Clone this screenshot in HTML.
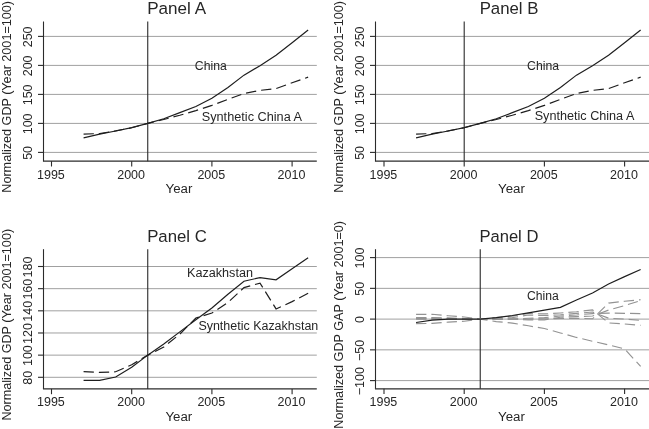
<!DOCTYPE html>
<html><head><meta charset="utf-8"><style>
html,body{margin:0;padding:0;background:#fff;}
svg{display:block;will-change:transform;}
text{font-family:"Liberation Sans", sans-serif;font-size:12.5px;fill:#262626;}
</style></head><body>
<svg width="649" height="429" viewBox="0 0 649 429">
<rect width="649" height="429" fill="#fff"/>
<line x1="43.5" y1="152.40" x2="316.8" y2="152.40" stroke="#a0a0a0" stroke-width="1"/>
<line x1="43.5" y1="123.40" x2="316.8" y2="123.40" stroke="#a0a0a0" stroke-width="1"/>
<line x1="43.5" y1="94.40" x2="316.8" y2="94.40" stroke="#a0a0a0" stroke-width="1"/>
<line x1="43.5" y1="65.40" x2="316.8" y2="65.40" stroke="#a0a0a0" stroke-width="1"/>
<line x1="43.5" y1="36.40" x2="316.8" y2="36.40" stroke="#a0a0a0" stroke-width="1"/>
<line x1="147.74" y1="21.5" x2="147.74" y2="161.2" stroke="#2b2b2b" stroke-width="1.1"/>
<polyline points="83.58,134.13 99.62,133.55 115.66,130.94 131.70,127.75 147.74,123.40 163.78,119.51 179.82,115.28 195.86,110.64 211.90,105.42 227.94,99.33 243.98,93.53 260.02,90.34 276.06,88.60 292.10,82.80 308.14,77.12" fill="none" stroke="#1e1e1e" stroke-width="1.2" stroke-dasharray="10.3 5.0"/>
<polyline points="83.58,137.84 99.62,134.13 115.66,131.00 131.70,127.69 147.74,123.40 163.78,118.76 179.82,112.67 195.86,106.46 211.90,98.34 227.94,87.44 243.98,75.14 260.02,65.69 276.06,55.25 292.10,42.78 308.14,30.02" fill="none" stroke="#1e1e1e" stroke-width="1.2"/>
<line x1="43.5" y1="21.5" x2="43.5" y2="161.2" stroke="#2b2b2b" stroke-width="1.1"/>
<line x1="42.95" y1="161.2" x2="316.8" y2="161.2" stroke="#2b2b2b" stroke-width="1.2"/>
<line x1="38.0" y1="152.40" x2="43.5" y2="152.40" stroke="#2b2b2b" stroke-width="1.1"/>
<text x="0" y="0" transform="translate(31.90,152.90) rotate(-90)" text-anchor="middle">50</text>
<line x1="38.0" y1="123.40" x2="43.5" y2="123.40" stroke="#2b2b2b" stroke-width="1.1"/>
<text x="0" y="0" transform="translate(31.90,123.90) rotate(-90)" text-anchor="middle">100</text>
<line x1="38.0" y1="94.40" x2="43.5" y2="94.40" stroke="#2b2b2b" stroke-width="1.1"/>
<text x="0" y="0" transform="translate(31.90,94.90) rotate(-90)" text-anchor="middle">150</text>
<line x1="38.0" y1="65.40" x2="43.5" y2="65.40" stroke="#2b2b2b" stroke-width="1.1"/>
<text x="0" y="0" transform="translate(31.90,65.90) rotate(-90)" text-anchor="middle">200</text>
<line x1="38.0" y1="36.40" x2="43.5" y2="36.40" stroke="#2b2b2b" stroke-width="1.1"/>
<text x="0" y="0" transform="translate(31.90,36.90) rotate(-90)" text-anchor="middle">250</text>
<line x1="51.50" y1="161.2" x2="51.50" y2="166.5" stroke="#2b2b2b" stroke-width="1.1"/>
<text x="50.90" y="178.70" text-anchor="middle">1995</text>
<line x1="131.70" y1="161.2" x2="131.70" y2="166.5" stroke="#2b2b2b" stroke-width="1.1"/>
<text x="131.10" y="178.70" text-anchor="middle">2000</text>
<line x1="211.90" y1="161.2" x2="211.90" y2="166.5" stroke="#2b2b2b" stroke-width="1.1"/>
<text x="211.30" y="178.70" text-anchor="middle">2005</text>
<line x1="292.10" y1="161.2" x2="292.10" y2="166.5" stroke="#2b2b2b" stroke-width="1.1"/>
<text x="291.50" y="178.70" text-anchor="middle">2010</text>
<text x="178.95" y="192.80" text-anchor="middle" textLength="26.8" lengthAdjust="spacingAndGlyphs">Year</text>
<text x="0" y="0" transform="translate(10.70,96.85) rotate(-90)" text-anchor="middle" textLength="191.7" lengthAdjust="spacingAndGlyphs">Normalized GDP (Year 2001=100)</text>
<text x="176.65" y="13.75" text-anchor="middle" style="font-size:16.3px" textLength="58.8" lengthAdjust="spacingAndGlyphs">Panel A</text>
<text x="194.80" y="69.85" textLength="31.96" lengthAdjust="spacingAndGlyphs">China</text>
<text x="201.70" y="120.70" textLength="100.4" lengthAdjust="spacingAndGlyphs">Synthetic China A</text>
<line x1="375.5" y1="152.40" x2="649" y2="152.40" stroke="#a0a0a0" stroke-width="1"/>
<line x1="375.5" y1="123.40" x2="649" y2="123.40" stroke="#a0a0a0" stroke-width="1"/>
<line x1="375.5" y1="94.40" x2="649" y2="94.40" stroke="#a0a0a0" stroke-width="1"/>
<line x1="375.5" y1="65.40" x2="649" y2="65.40" stroke="#a0a0a0" stroke-width="1"/>
<line x1="375.5" y1="36.40" x2="649" y2="36.40" stroke="#a0a0a0" stroke-width="1"/>
<line x1="464.20" y1="21.5" x2="464.20" y2="161.2" stroke="#2b2b2b" stroke-width="1.1"/>
<polyline points="416.08,134.13 432.12,133.55 448.16,130.94 464.20,127.75 480.24,123.40 496.28,119.51 512.32,115.28 528.36,110.64 544.40,105.42 560.44,99.33 576.48,93.53 592.52,90.34 608.56,88.60 624.60,82.80 640.64,77.12" fill="none" stroke="#1e1e1e" stroke-width="1.2" stroke-dasharray="10.3 5.0"/>
<polyline points="416.08,137.84 432.12,134.13 448.16,131.00 464.20,127.69 480.24,123.40 496.28,118.76 512.32,112.67 528.36,106.46 544.40,98.34 560.44,87.44 576.48,75.14 592.52,65.69 608.56,55.25 624.60,42.78 640.64,30.02" fill="none" stroke="#1e1e1e" stroke-width="1.2"/>
<line x1="375.5" y1="21.5" x2="375.5" y2="161.2" stroke="#2b2b2b" stroke-width="1.1"/>
<line x1="374.95" y1="161.2" x2="649" y2="161.2" stroke="#2b2b2b" stroke-width="1.2"/>
<line x1="370.0" y1="152.40" x2="375.5" y2="152.40" stroke="#2b2b2b" stroke-width="1.1"/>
<text x="0" y="0" transform="translate(363.90,152.90) rotate(-90)" text-anchor="middle">50</text>
<line x1="370.0" y1="123.40" x2="375.5" y2="123.40" stroke="#2b2b2b" stroke-width="1.1"/>
<text x="0" y="0" transform="translate(363.90,123.90) rotate(-90)" text-anchor="middle">100</text>
<line x1="370.0" y1="94.40" x2="375.5" y2="94.40" stroke="#2b2b2b" stroke-width="1.1"/>
<text x="0" y="0" transform="translate(363.90,94.90) rotate(-90)" text-anchor="middle">150</text>
<line x1="370.0" y1="65.40" x2="375.5" y2="65.40" stroke="#2b2b2b" stroke-width="1.1"/>
<text x="0" y="0" transform="translate(363.90,65.90) rotate(-90)" text-anchor="middle">200</text>
<line x1="370.0" y1="36.40" x2="375.5" y2="36.40" stroke="#2b2b2b" stroke-width="1.1"/>
<text x="0" y="0" transform="translate(363.90,36.90) rotate(-90)" text-anchor="middle">250</text>
<line x1="384.00" y1="161.2" x2="384.00" y2="166.5" stroke="#2b2b2b" stroke-width="1.1"/>
<text x="383.40" y="178.70" text-anchor="middle">1995</text>
<line x1="464.20" y1="161.2" x2="464.20" y2="166.5" stroke="#2b2b2b" stroke-width="1.1"/>
<text x="463.60" y="178.70" text-anchor="middle">2000</text>
<line x1="544.40" y1="161.2" x2="544.40" y2="166.5" stroke="#2b2b2b" stroke-width="1.1"/>
<text x="543.80" y="178.70" text-anchor="middle">2005</text>
<line x1="624.60" y1="161.2" x2="624.60" y2="166.5" stroke="#2b2b2b" stroke-width="1.1"/>
<text x="624.00" y="178.70" text-anchor="middle">2010</text>
<text x="511.50" y="192.80" text-anchor="middle" textLength="26.8" lengthAdjust="spacingAndGlyphs">Year</text>
<text x="0" y="0" transform="translate(342.80,96.85) rotate(-90)" text-anchor="middle" textLength="191.7" lengthAdjust="spacingAndGlyphs">Normalized GDP (Year 2001=100)</text>
<text x="509.05" y="13.60" text-anchor="middle" style="font-size:16.3px" textLength="58.8" lengthAdjust="spacingAndGlyphs">Panel B</text>
<text x="527.10" y="69.85" textLength="31.96" lengthAdjust="spacingAndGlyphs">China</text>
<text x="534.70" y="119.90" textLength="99.7" lengthAdjust="spacingAndGlyphs">Synthetic China A</text>
<line x1="43.5" y1="377.30" x2="316.8" y2="377.30" stroke="#a0a0a0" stroke-width="1"/>
<line x1="43.5" y1="355.14" x2="316.8" y2="355.14" stroke="#a0a0a0" stroke-width="1"/>
<line x1="43.5" y1="332.98" x2="316.8" y2="332.98" stroke="#a0a0a0" stroke-width="1"/>
<line x1="43.5" y1="310.82" x2="316.8" y2="310.82" stroke="#a0a0a0" stroke-width="1"/>
<line x1="43.5" y1="288.66" x2="316.8" y2="288.66" stroke="#a0a0a0" stroke-width="1"/>
<line x1="43.5" y1="266.50" x2="316.8" y2="266.50" stroke="#a0a0a0" stroke-width="1"/>
<line x1="147.74" y1="249.2" x2="147.74" y2="388.9" stroke="#2b2b2b" stroke-width="1.1"/>
<polyline points="83.58,371.65 99.62,372.42 115.66,371.76 131.70,364.78 147.74,355.14 163.78,347.05 179.82,334.09 195.86,318.02 211.90,313.04 227.94,302.51 243.98,287.66 260.02,283.12 276.06,308.94 292.10,301.62 308.14,293.31" fill="none" stroke="#1e1e1e" stroke-width="1.2" stroke-dasharray="10.3 5.0"/>
<polyline points="83.58,380.29 99.62,380.40 115.66,376.97 131.70,367.33 147.74,355.14 163.78,344.06 179.82,331.87 195.86,319.68 211.90,308.05 227.94,294.20 243.98,281.24 260.02,277.58 276.06,279.80 292.10,268.72 308.14,257.64" fill="none" stroke="#1e1e1e" stroke-width="1.2"/>
<line x1="43.5" y1="249.2" x2="43.5" y2="388.9" stroke="#2b2b2b" stroke-width="1.1"/>
<line x1="42.95" y1="388.9" x2="316.8" y2="388.9" stroke="#2b2b2b" stroke-width="1.2"/>
<line x1="38.0" y1="377.30" x2="43.5" y2="377.30" stroke="#2b2b2b" stroke-width="1.1"/>
<text x="0" y="0" transform="translate(31.90,377.80) rotate(-90)" text-anchor="middle">80</text>
<line x1="38.0" y1="355.14" x2="43.5" y2="355.14" stroke="#2b2b2b" stroke-width="1.1"/>
<text x="0" y="0" transform="translate(31.90,355.64) rotate(-90)" text-anchor="middle">100</text>
<line x1="38.0" y1="332.98" x2="43.5" y2="332.98" stroke="#2b2b2b" stroke-width="1.1"/>
<text x="0" y="0" transform="translate(31.90,333.48) rotate(-90)" text-anchor="middle">120</text>
<line x1="38.0" y1="310.82" x2="43.5" y2="310.82" stroke="#2b2b2b" stroke-width="1.1"/>
<text x="0" y="0" transform="translate(31.90,311.32) rotate(-90)" text-anchor="middle">140</text>
<line x1="38.0" y1="288.66" x2="43.5" y2="288.66" stroke="#2b2b2b" stroke-width="1.1"/>
<text x="0" y="0" transform="translate(31.90,289.16) rotate(-90)" text-anchor="middle">160</text>
<line x1="38.0" y1="266.50" x2="43.5" y2="266.50" stroke="#2b2b2b" stroke-width="1.1"/>
<text x="0" y="0" transform="translate(31.90,267.00) rotate(-90)" text-anchor="middle">180</text>
<line x1="51.50" y1="388.9" x2="51.50" y2="394.2" stroke="#2b2b2b" stroke-width="1.1"/>
<text x="50.90" y="406.40" text-anchor="middle">1995</text>
<line x1="131.70" y1="388.9" x2="131.70" y2="394.2" stroke="#2b2b2b" stroke-width="1.1"/>
<text x="131.10" y="406.40" text-anchor="middle">2000</text>
<line x1="211.90" y1="388.9" x2="211.90" y2="394.2" stroke="#2b2b2b" stroke-width="1.1"/>
<text x="211.30" y="406.40" text-anchor="middle">2005</text>
<line x1="292.10" y1="388.9" x2="292.10" y2="394.2" stroke="#2b2b2b" stroke-width="1.1"/>
<text x="291.50" y="406.40" text-anchor="middle">2010</text>
<text x="178.80" y="420.85" text-anchor="middle" textLength="26.8" lengthAdjust="spacingAndGlyphs">Year</text>
<text x="0" y="0" transform="translate(10.70,324.75) rotate(-90)" text-anchor="middle" textLength="191.7" lengthAdjust="spacingAndGlyphs">Normalized GDP (Year 2001=100)</text>
<text x="177.00" y="241.85" text-anchor="middle" style="font-size:16.3px" textLength="59.7" lengthAdjust="spacingAndGlyphs">Panel C</text>
<text x="187.00" y="276.60" textLength="66.0" lengthAdjust="spacingAndGlyphs">Kazakhstan</text>
<text x="198.40" y="330.30" textLength="119.9" lengthAdjust="spacingAndGlyphs">Synthetic Kazakhstan</text>
<line x1="375.5" y1="380.60" x2="649" y2="380.60" stroke="#a0a0a0" stroke-width="1"/>
<line x1="375.5" y1="349.85" x2="649" y2="349.85" stroke="#a0a0a0" stroke-width="1"/>
<line x1="375.5" y1="319.10" x2="649" y2="319.10" stroke="#a0a0a0" stroke-width="1"/>
<line x1="375.5" y1="288.35" x2="649" y2="288.35" stroke="#a0a0a0" stroke-width="1"/>
<line x1="375.5" y1="257.60" x2="649" y2="257.60" stroke="#a0a0a0" stroke-width="1"/>
<line x1="480.24" y1="249.2" x2="480.24" y2="388.8" stroke="#2b2b2b" stroke-width="1.1"/>
<polyline points="416.08,314.30 432.12,314.30 448.16,315.72 464.20,316.95 480.24,319.10 496.28,317.69 512.32,316.09 528.36,313.38 544.40,313.93 560.44,312.95 576.48,311.72 592.52,309.88 608.56,322.91 624.60,324.02 640.64,325.25" fill="none" stroke="#939393" stroke-width="1.15" stroke-dasharray="10.3 5.0"/>
<polyline points="416.08,317.56 432.12,317.56 448.16,317.87 464.20,318.49 480.24,319.10 496.28,318.18 512.32,317.69 528.36,314.98 544.40,315.53 560.44,314.80 576.48,313.38 592.52,312.03 608.56,318.18 624.60,319.10 640.64,320.33" fill="none" stroke="#939393" stroke-width="1.15" stroke-dasharray="10.3 5.0"/>
<polyline points="416.08,318.49 432.12,318.79 448.16,318.79 464.20,318.92 480.24,319.10 496.28,318.79 512.32,319.35 528.36,318.24 544.40,317.69 560.44,316.03 576.48,314.98 592.52,313.56 608.56,313.07 624.60,313.38 640.64,313.56" fill="none" stroke="#939393" stroke-width="1.15" stroke-dasharray="10.3 5.0"/>
<polyline points="416.08,323.59 432.12,323.41 448.16,322.18 464.20,321.25 480.24,319.10 496.28,319.10 512.32,319.10 528.36,319.84 544.40,319.84 560.44,317.25 576.48,316.64 592.52,316.03 608.56,310.12 624.60,305.57 640.64,300.65" fill="none" stroke="#939393" stroke-width="1.15" stroke-dasharray="10.3 5.0"/>
<polyline points="416.08,319.10 432.12,319.10 448.16,319.10 464.20,319.10 480.24,319.10 496.28,319.41 512.32,318.79 528.36,319.10 544.40,318.79 560.44,318.49 576.48,318.24 592.52,318.79 608.56,303.11 624.60,301.27 640.64,299.73" fill="none" stroke="#939393" stroke-width="1.15" stroke-dasharray="10.3 5.0"/>
<polyline points="416.08,318.18 432.12,318.18 448.16,318.49 464.20,318.79 480.24,319.10 496.28,321.56 512.32,323.10 528.36,325.80 544.40,328.51 560.44,332.94 576.48,337.43 592.52,341.24 608.56,344.93 624.60,348.93 640.64,366.46" fill="none" stroke="#939393" stroke-width="1.15" stroke-dasharray="10.3 5.0"/>
<polyline points="416.08,322.48 432.12,320.21 448.16,319.22 464.20,319.16 480.24,319.10 496.28,317.69 512.32,315.53 528.36,312.83 544.40,310.12 560.44,307.42 576.48,300.04 592.52,292.96 608.56,284.05 624.60,276.67 640.64,269.53" fill="none" stroke="#1e1e1e" stroke-width="1.2"/>
<line x1="375.5" y1="249.2" x2="375.5" y2="388.8" stroke="#2b2b2b" stroke-width="1.1"/>
<line x1="374.95" y1="388.8" x2="649" y2="388.8" stroke="#2b2b2b" stroke-width="1.2"/>
<line x1="370.0" y1="380.60" x2="375.5" y2="380.60" stroke="#2b2b2b" stroke-width="1.1"/>
<text x="0" y="0" transform="translate(363.90,381.10) rotate(-90)" text-anchor="middle">−100</text>
<line x1="370.0" y1="349.85" x2="375.5" y2="349.85" stroke="#2b2b2b" stroke-width="1.1"/>
<text x="0" y="0" transform="translate(363.90,350.35) rotate(-90)" text-anchor="middle">−50</text>
<line x1="370.0" y1="319.10" x2="375.5" y2="319.10" stroke="#2b2b2b" stroke-width="1.1"/>
<text x="0" y="0" transform="translate(363.90,319.60) rotate(-90)" text-anchor="middle">0</text>
<line x1="370.0" y1="288.35" x2="375.5" y2="288.35" stroke="#2b2b2b" stroke-width="1.1"/>
<text x="0" y="0" transform="translate(363.90,288.85) rotate(-90)" text-anchor="middle">50</text>
<line x1="370.0" y1="257.60" x2="375.5" y2="257.60" stroke="#2b2b2b" stroke-width="1.1"/>
<text x="0" y="0" transform="translate(363.90,258.10) rotate(-90)" text-anchor="middle">100</text>
<line x1="384.00" y1="388.8" x2="384.00" y2="394.1" stroke="#2b2b2b" stroke-width="1.1"/>
<text x="383.40" y="406.30" text-anchor="middle">1995</text>
<line x1="464.20" y1="388.8" x2="464.20" y2="394.1" stroke="#2b2b2b" stroke-width="1.1"/>
<text x="463.60" y="406.30" text-anchor="middle">2000</text>
<line x1="544.40" y1="388.8" x2="544.40" y2="394.1" stroke="#2b2b2b" stroke-width="1.1"/>
<text x="543.80" y="406.30" text-anchor="middle">2005</text>
<line x1="624.60" y1="388.8" x2="624.60" y2="394.1" stroke="#2b2b2b" stroke-width="1.1"/>
<text x="624.00" y="406.30" text-anchor="middle">2010</text>
<text x="511.50" y="420.85" text-anchor="middle" textLength="26.8" lengthAdjust="spacingAndGlyphs">Year</text>
<text x="0" y="0" transform="translate(342.80,324.85) rotate(-90)" text-anchor="middle" textLength="207.8" lengthAdjust="spacingAndGlyphs">Normalized GDP GAP (Year 2001=0)</text>
<text x="508.90" y="241.85" text-anchor="middle" style="font-size:16.3px" textLength="59.0" lengthAdjust="spacingAndGlyphs">Panel D</text>
<text x="527.00" y="299.80" textLength="31.8" lengthAdjust="spacingAndGlyphs">China</text>
</svg>
</body></html>
